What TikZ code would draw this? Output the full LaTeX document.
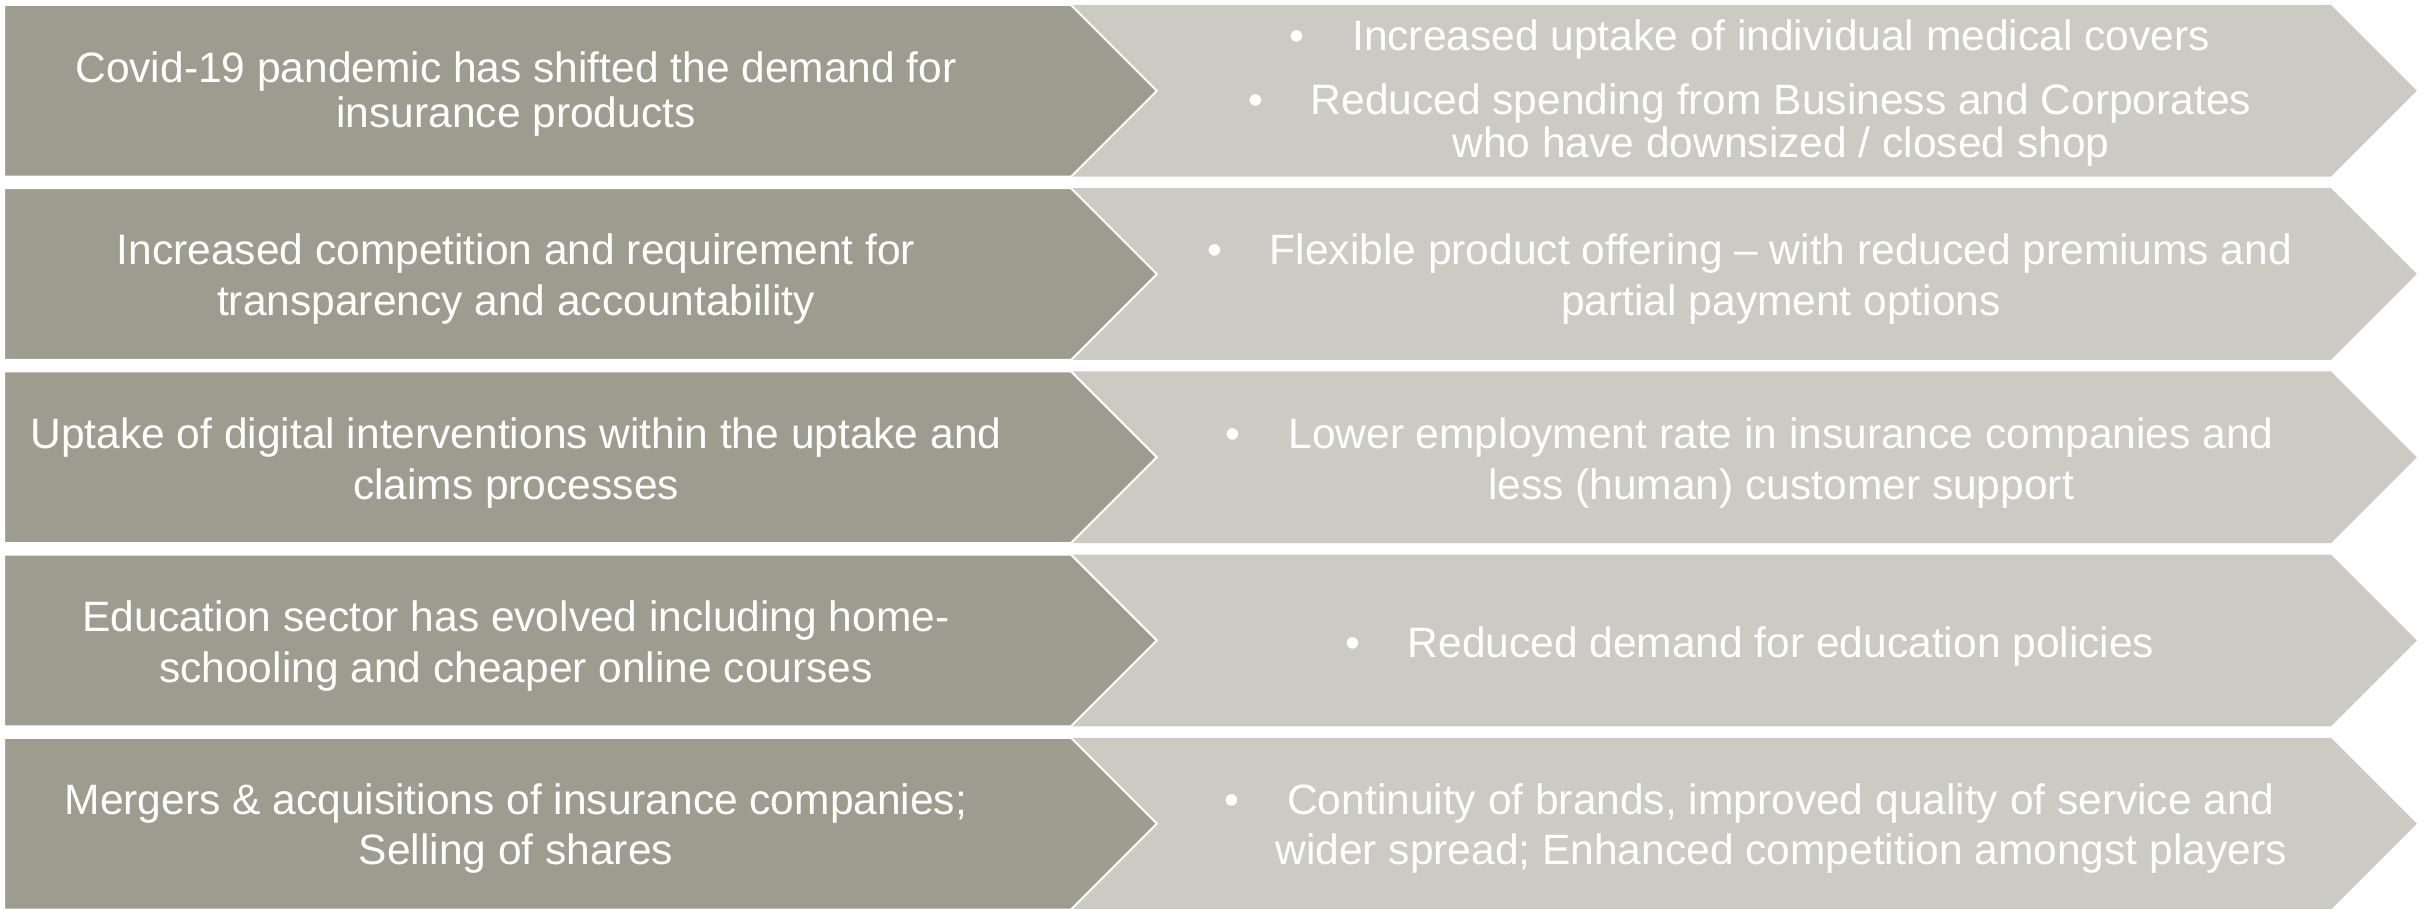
\documentclass[tikz,border=0pt]{standalone}
\usepackage{fontspec}
\setmainfont{Liberation Sans}
\definecolor{darkchev}{RGB}{157,157,143}
\definecolor{lightchev}{RGB}{203,203,196}
\begin{document}
\begin{tikzpicture}[x=1pt,y=-1pt,
  leftchev/.style={fill=darkchev,draw=white,line width=2pt,line join=miter},
  rightchev/.style={fill=lightchev},
  txt/.style={text=white,inner sep=0pt,anchor=base,font=\fontsize{42.5}{51}\selectfont},
  bul/.style={text=white,inner sep=0pt,anchor=base,font=\fontsize{42.5}{51}\selectfont}]
\useasboundingbox (0,0) rectangle (2433,909);
\def\H{171.7}
\foreach \i in {0,...,4}{
  \pgfmathsetmacro{\T}{5+183.2*\i}
  \pgfmathsetmacro{\B}{\T+\H}
  \pgfmathsetmacro{\M}{\T+\H/2}
  \fill[rightchev] (1071,\T) -- (2331,\T) -- (2331+\H/2,\M) -- (2331,\B) -- (1071,\B) -- (1071+\H/2,\M) -- cycle;
  \draw[leftchev] (4,\T) -- (1071,\T) -- (1071+\H/2,\M) -- (1071,\B) -- (4,\B) -- cycle;
}
% left texts
\node[txt] (l1a) at (516,83) {Covid-19 pandemic has shifted the demand for};
\node[txt] (l1b) at (516,128) {insurance products};
\node[txt] (l2a) at (516,265) {Increased competition and requirement for};
\node[txt] (l2b) at (516,316) {transparency and accountability};
\node[txt] (l3a) at (516,448) {Uptake of digital interventions within the uptake and};
\node[txt] (l3b) at (516,499) {claims processes};
\node[txt] (l4a) at (516,631) {Education sector has evolved including home-};
\node[txt] (l4b) at (516,682) {schooling and cheaper online courses};
\node[txt] (l5a) at (516,814) {Mergers \& acquisitions of insurance companies;};
\node[txt] (l5b) at (516,864) {Selling of shares};
% right texts
\node[txt] (r1a) at (1781,51) {Increased uptake of individual medical covers};
\node[txt] (r1b) at (1781,115) {Reduced spending from Business and Corporates};
\node[txt] (r1c) at (1781,158) {who have downsized / closed shop};
\node[txt] (r2a) at (1781,265) {Flexible product offering – with reduced premiums and};
\node[txt] (r2b) at (1781,316) {partial payment options};
\node[txt] (r3a) at (1781,448) {Lower employment rate in insurance companies and};
\node[txt] (r3b) at (1781,499) {less (human) customer support};
\node[txt] (r4a) at (1781,657) {Reduced demand for education policies};
\node[txt] (r5a) at (1781,814) {Continuity of brands, improved quality of service and};
\node[txt] (r5b) at (1781,864) {wider spread; Enhanced competition amongst players};
% bullets
\foreach \n in {r1a,r1b,r2a,r3a,r4a,r5a}{
  \node[bul] (b\n) at ([xshift=-55pt]\n.base west) {•};
}
\end{tikzpicture}
\end{document}
